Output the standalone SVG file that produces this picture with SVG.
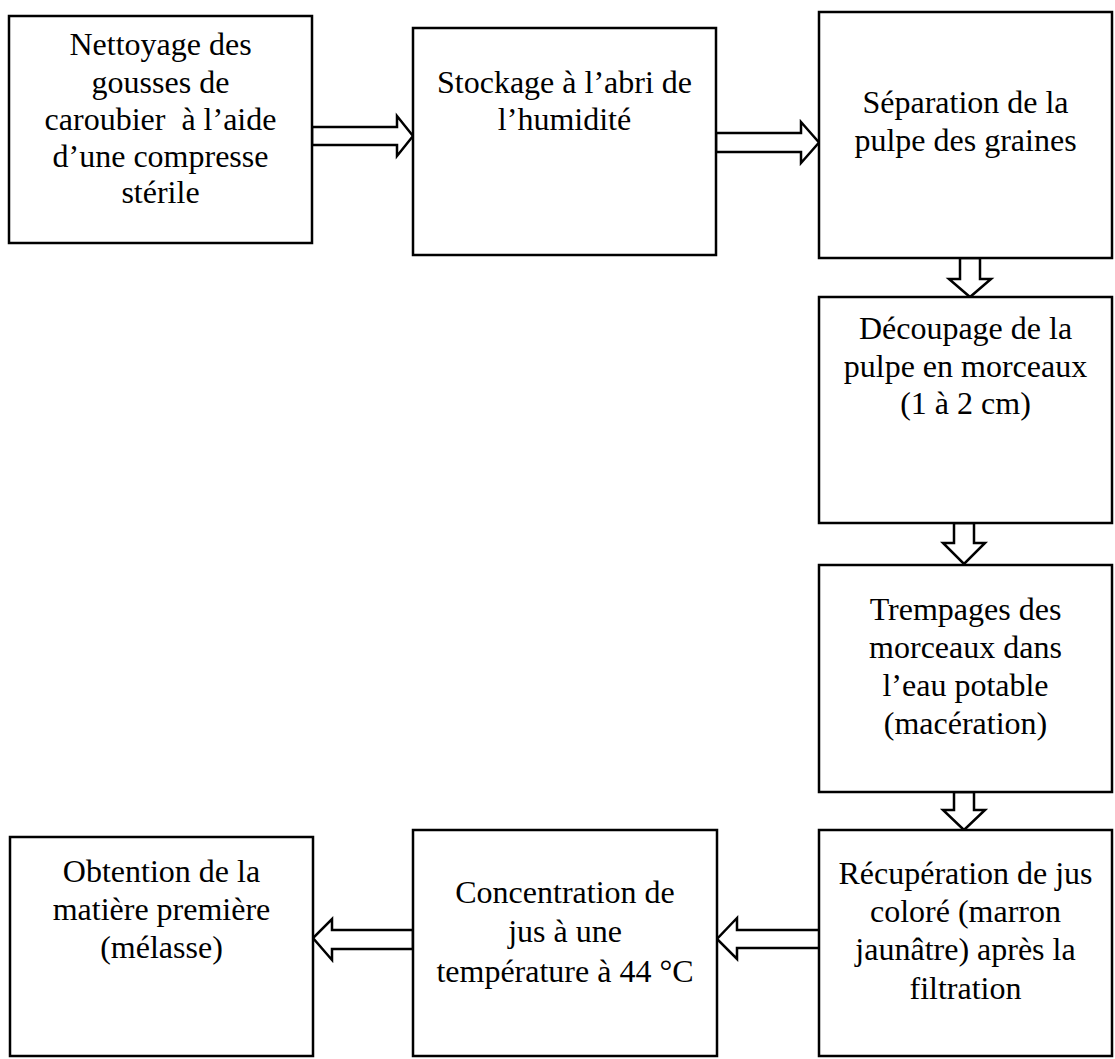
<svg xmlns="http://www.w3.org/2000/svg" width="1115" height="1059" viewBox="0 0 1115 1059">
<style>
.box{fill:#fff;stroke:#000;stroke-width:2.5}
.arr{fill:#fff;stroke:#000;stroke-width:2.5;stroke-linejoin:miter}
text{font-family:"Liberation Serif","Times New Roman",serif;font-size:32px;fill:#000;text-anchor:middle}
</style>
<rect width="1115" height="1059" fill="#fff"/>
<g id="connectors">
<polygon class="arr" points="312,127 397,127 397,116 413,136 397,156 397,145 312,145"/>
<polygon class="arr" points="716,133 801,133 801,122 819,142.5 801,163 801,152 716,152"/>
<polygon class="arr" points="960,258 980,258 980,279 991,279 970,297 949,279 960,279"/>
<polygon class="arr" points="954,523 974,523 974,543 985,543 964,564 943,543 954,543"/>
<polygon class="arr" points="954,792 974,792 974,810 985,810 964,830 943,810 954,810"/>
<polygon class="arr" points="820,930 737,930 737,918 717,939 737,959 737,948 820,948"/>
<polygon class="arr" points="413,930 332,930 332,919 313,938 332,960 332,949 413,949"/>
</g>
<g id="n1">
<rect class="box" x="9" y="16" width="303" height="227"/>
<text x="160.5" y="55">Nettoyage des</text>
<text x="160.5" y="93">gousses de</text>
<text x="160.5" y="130" xml:space="preserve">caroubier  à l’aide</text>
<text x="160.5" y="167">d’une compresse</text>
<text x="160.5" y="203">stérile</text>
</g>
<g id="n2">
<rect class="box" x="413" y="28" width="303" height="227"/>
<text x="564.5" y="93">Stockage à l’abri de</text>
<text x="564.5" y="130">l’humidité</text>
</g>
<g id="n3">
<rect class="box" x="819" y="12" width="293" height="246"/>
<text x="965.5" y="113">Séparation de la</text>
<text x="965.5" y="151">pulpe des graines</text>
</g>
<g id="n4">
<rect class="box" x="819" y="297" width="293" height="226"/>
<text x="965.5" y="339">Découpage de la</text>
<text x="965.5" y="377">pulpe en morceaux</text>
<text x="965.5" y="414">(1 à 2 cm)</text>
</g>
<g id="n5">
<rect class="box" x="819" y="565" width="293" height="227"/>
<text x="965.5" y="620">Trempages des</text>
<text x="965.5" y="658">morceaux dans</text>
<text x="965.5" y="696">l’eau potable</text>
<text x="965.5" y="734">(macération)</text>
</g>
<g id="n6">
<rect class="box" x="819" y="830" width="293" height="226"/>
<text x="965.5" y="884">Récupération de jus</text>
<text x="965.5" y="922">coloré (marron</text>
<text x="965.5" y="960">jaunâtre) après la</text>
<text x="965.5" y="999">filtration</text>
</g>
<g id="n7">
<rect class="box" x="413" y="830" width="304" height="226"/>
<text x="565" y="903">Concentration de</text>
<text x="565" y="942">jus à une</text>
<text x="565" y="982">température à 44 °C</text>
</g>
<g id="n8">
<rect class="box" x="10" y="837" width="303" height="219"/>
<text x="161.5" y="882">Obtention de la</text>
<text x="161.5" y="920">matière première</text>
<text x="161.5" y="958">(mélasse)</text>
</g>
</svg>
